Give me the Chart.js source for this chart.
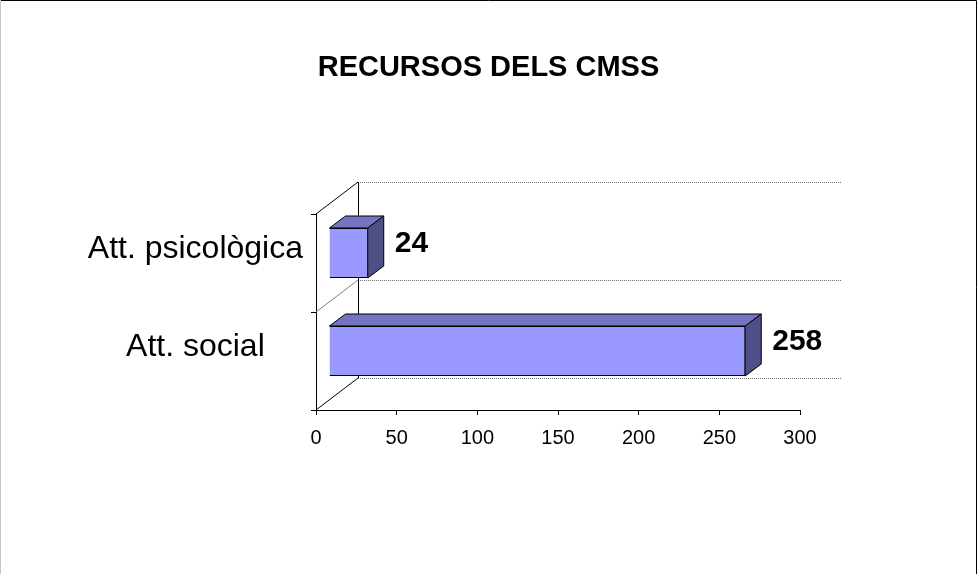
<!DOCTYPE html>
<html>
<head>
<meta charset="utf-8">
<script src="https://cdn.jsdelivr.net/npm/chart.js@4/dist/chart.umd.min.js"></script>
<style>
  html, body { margin: 0; padding: 0; background: #fff; }
  #wrap { width: 977px; height: 574px; }
</style>
</head>
<body>
<div id="wrap"><canvas id="c" width="977" height="574"></canvas></div>
<script>
// Chart content
const chartTitle = 'RECURSOS DELS CMSS';
const categories = ['Att. psicològica', 'Att. social'];
const values = [24, 258];
const xTicks = [0, 50, 100, 150, 200, 250, 300];

const FONT = '"Liberation Sans", Arial, Helvetica, sans-serif';

// 3D look: depth of the plot box, where the bar front sits, and the bar depth
const WALL_DEPTH = { x: 42, y: -32 };
const BAR_SHIFT = { x: 13, y: -10 };
const BAR_DEPTH = { x: 16, y: -12 };
const FACE_FRONT = '#9999FF';
const FACE_TOP = '#7474C0';
const FACE_SIDE = '#4F4F87';

const box3d = {
  id: 'box3d',
  beforeDraw(chart) {
    const { ctx, width, height } = chart;
    ctx.save();
    ctx.fillStyle = '#fff';
    ctx.fillRect(0, 0, width, height);
    // outer frame
    ctx.lineWidth = 1;
    ctx.strokeStyle = '#000';
    ctx.beginPath();
    ctx.moveTo(0, 0.5);
    ctx.lineTo(width - 0.5, 0.5);
    ctx.lineTo(width - 0.5, height);
    ctx.stroke();
    ctx.strokeStyle = '#c8c8c8';
    ctx.beginPath();
    ctx.moveTo(0.5, 0);
    ctx.lineTo(0.5, height);
    ctx.stroke();
    // title, centred on the page
    ctx.fillStyle = '#000';
    ctx.font = 'bold 29px ' + FONT;
    ctx.textAlign = 'center';
    ctx.textBaseline = 'middle';
    ctx.fillText(chartTitle, width / 2, 68);
    ctx.restore();
  },
  beforeDatasetsDraw(chart) {
    const { ctx, scales: { x, y } } = chart;
    const left = x.getPixelForValue(x.min);
    const right = x.getPixelForValue(x.max);
    const band = (y.bottom - y.top) / categories.length;
    const edges = [];
    for (let k = 0; k <= categories.length; k++) edges.push(y.top + k * band);

    ctx.save();
    ctx.lineWidth = 1;
    // back wall gridlines
    ctx.strokeStyle = '#707070';
    ctx.setLineDash([1, 1]);
    edges.forEach(e => {
      const yy = Math.round(e + WALL_DEPTH.y) + 0.5;
      ctx.beginPath();
      ctx.moveTo(left + WALL_DEPTH.x, yy);
      ctx.lineTo(right + WALL_DEPTH.x, yy);
      ctx.stroke();
    });
    ctx.setLineDash([]);
    // side wall
    edges.forEach((e, k) => {
      const outer = k === 0 || k === edges.length - 1;
      ctx.strokeStyle = outer ? '#000' : '#808080';
      ctx.beginPath();
      ctx.moveTo(left, e);
      ctx.lineTo(left + WALL_DEPTH.x, e + WALL_DEPTH.y);
      ctx.stroke();
    });
    // back wall left edge
    const bx = Math.round(left + WALL_DEPTH.x) + 0.5;
    ctx.strokeStyle = '#000';
    ctx.beginPath();
    ctx.moveTo(bx, y.top + WALL_DEPTH.y);
    ctx.lineTo(bx, y.bottom + WALL_DEPTH.y);
    ctx.stroke();
    ctx.restore();

    // the bar front faces are drawn by Chart.js inside the box
    ctx.save();
    ctx.translate(BAR_SHIFT.x, BAR_SHIFT.y);
  },
  afterDatasetsDraw(chart) {
    const { ctx } = chart;
    ctx.restore();
    const meta = chart.getDatasetMeta(0);
    const data = chart.data.datasets[0].data;
    ctx.save();
    ctx.lineWidth = 1;
    ctx.strokeStyle = '#000';
    ctx.lineJoin = 'round';
    meta.data.forEach((bar, i) => {
      const p = bar.getProps(['x', 'y', 'base', 'height'], true);
      const l = Math.min(p.base, p.x) + BAR_SHIFT.x;
      const r = Math.max(p.base, p.x) + BAR_SHIFT.x;
      const t = p.y - p.height / 2 + BAR_SHIFT.y;
      const b = p.y + p.height / 2 + BAR_SHIFT.y;
      const dx = BAR_DEPTH.x, dy = BAR_DEPTH.y;
      // top face
      ctx.fillStyle = FACE_TOP;
      ctx.beginPath();
      ctx.moveTo(l, t); ctx.lineTo(r, t); ctx.lineTo(r + dx, t + dy); ctx.lineTo(l + dx, t + dy);
      ctx.closePath(); ctx.fill(); ctx.stroke();
      // side face
      ctx.fillStyle = FACE_SIDE;
      ctx.beginPath();
      ctx.moveTo(r, t); ctx.lineTo(r + dx, t + dy); ctx.lineTo(r + dx, b + dy); ctx.lineTo(r, b);
      ctx.closePath(); ctx.fill(); ctx.stroke();
      // value label
      ctx.fillStyle = '#000';
      ctx.font = 'bold 30px ' + FONT;
      ctx.textAlign = 'left';
      ctx.textBaseline = 'middle';
      ctx.fillText(String(data[i]), r + dx + 11, (t + b) / 2 + dy / 2 - 3);
    });
    ctx.restore();
  }
};

new Chart(document.getElementById('c'), {
  type: 'bar',
  data: {
    labels: categories,
    datasets: [{
      data: values,
      backgroundColor: FACE_FRONT,
      borderColor: '#000',
      borderWidth: 1,
      barPercentage: 0.51,
      categoryPercentage: 1
    }]
  },
  plugins: [box3d],
  options: {
    indexAxis: 'y',
    responsive: false,
    devicePixelRatio: 1,
    animation: false,
    layout: { padding: { left: 60, right: 177, top: 214, bottom: 119 } },
    plugins: {
      legend: { display: false },
      tooltip: { enabled: false },
      title: { display: false }
    },
    scales: {
      x: {
        type: 'linear',
        min: xTicks[0],
        max: xTicks[xTicks.length - 1],
        afterBuildTicks(s) { s.ticks = xTicks.map(v => ({ value: v })); },
        grid: { drawOnChartArea: false, tickLength: 5, color: '#000' },
        border: { display: true, color: '#000' },
        ticks: { padding: 11, color: '#000', font: { family: FONT, size: 20 } },
        afterFit(s) { s.height = 45; }
      },
      y: {
        type: 'category',
        offset: true,
        grid: { offset: true, drawOnChartArea: false, tickLength: 5, color: '#000' },
        border: { display: true, color: '#000' },
        ticks: {
          crossAlign: 'center',
          labelOffset: -14,
          padding: 8,
          color: '#000',
          font: { family: FONT, size: 32 }
        },
        afterFit(s) { s.width = 256; }
      }
    }
  }
});
</script>
</body>
</html>
